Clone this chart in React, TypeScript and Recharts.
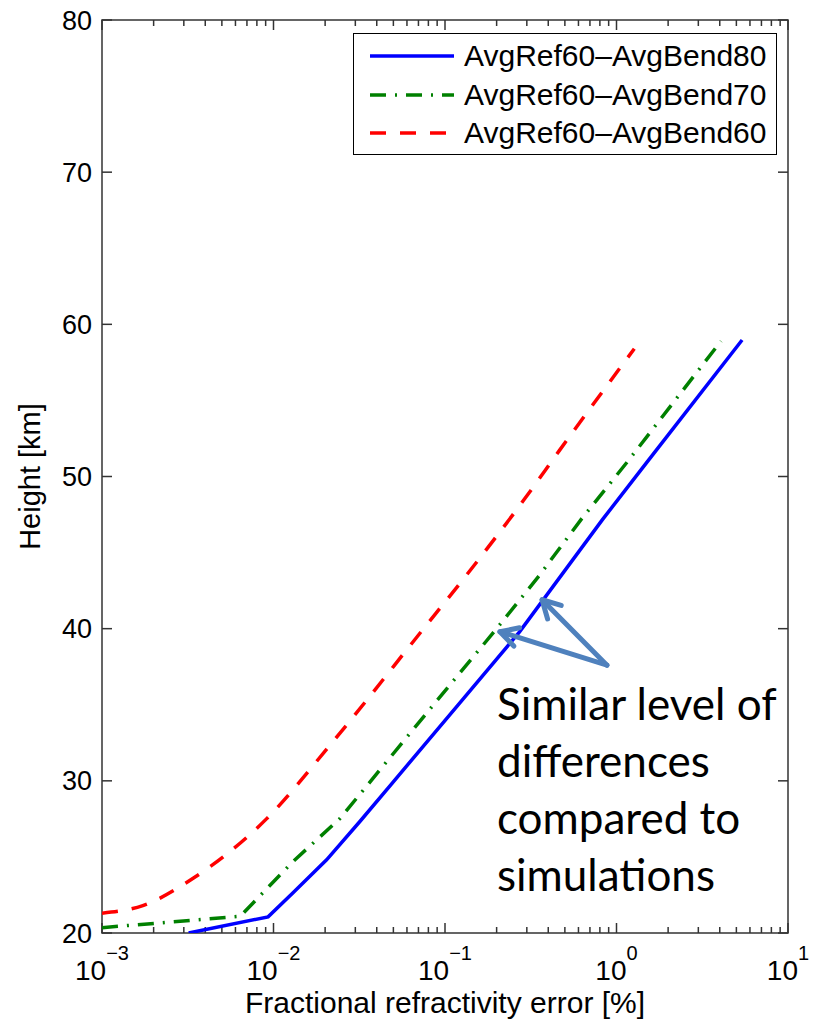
import { LineChart, Line, XAxis, YAxis, ReferenceLine, ReferenceArea, Label } from "recharts";

const FONT = '"Liberation Sans", Arial, Helvetica, sans-serif';
const AXIS = "#333";

// height [km] vs fractional refractivity error [%]
const bend80Height = [20.0, 21.06, 22.64, 24.81, 27.31, 29.87, 34.93, 39.79, 47.15, 50.96, 58.97];
const bend80Error = [0.0032, 0.0093, 0.013, 0.0204, 0.0318, 0.0494, 0.118, 0.272, 0.826, 1.51, 5.4];

const bend70Height = [20.35, 21.1, 22.3, 24.7, 27.5, 35.0, 40.0, 43.5, 47.2, 50.96, 58.9];
const bend70Error = [0.001, 0.0064, 0.0081, 0.013, 0.0243, 0.0857, 0.2, 0.355, 0.624, 1.156, 4.07];

const bend60Height = [21.3, 21.8, 23.6, 27.5, 32.3, 40.0, 43.5, 48.5, 51.7, 58.4];
const bend60Error = [0.001, 0.00173, 0.0034, 0.0091, 0.0212, 0.075, 0.133, 0.29, 0.464, 1.27];

const seriesNames = ["AvgRef60\u2013AvgBend80", "AvgRef60\u2013AvgBend70", "AvgRef60\u2013AvgBend60"];

const xMajorTicks = [0.001, 0.01, 0.1, 1, 10];
const xMinorTicks = [
  0.002, 0.003, 0.004, 0.005, 0.006, 0.007, 0.008, 0.009,
  0.02, 0.03, 0.04, 0.05, 0.06, 0.07, 0.08, 0.09,
  0.2, 0.3, 0.4, 0.5, 0.6, 0.7, 0.8, 0.9,
  2, 3, 4, 5, 6, 7, 8, 9,
];
const yTicks = [20, 30, 40, 50, 60, 70, 80];

const noteLines = ["Similar level of", "differences", "compared to", "simulations"];
const arrowTail = { x: 0.88, y: 37.6 };
const arrowTips = [
  { x: 0.209, y: 39.8 },
  { x: 0.368, y: 41.9 },
];

const toRows = (h: number[], e: number[]) => h.map((v, i) => ({ h: v, e: e[i] }));

const series = [
  { name: seriesNames[0], color: "#0000ff", dash: undefined, curve: "linear", data: toRows(bend80Height, bend80Error) },
  { name: seriesNames[1], color: "#008000", dash: "16 9 2 9", curve: "linear", data: toRows(bend70Height, bend70Error) },
  { name: seriesNames[2], color: "#ff0000", dash: "16 14", curve: "monotone", data: toRows(bend60Height, bend60Error) },
];

function PowerTick({ x, y, payload }: any) {
  const exp = Math.round(Math.log10(payload.value));
  return (
    <text x={x} y={y + 47} textAnchor="middle" fontFamily={FONT} fontSize={28} fill="#000">
      10
      <tspan dy={-20} fontSize={20}>
        {exp < 0 ? `\u2212${-exp}` : `${exp}`}
      </tspan>
    </text>
  );
}

// short inward tick marks at both ends of a full-span reference line
function EndTicks(props: any) {
  const { x1, y1, x2, y2, len } = props;
  const d = Math.hypot(x2 - x1, y2 - y1) || 1;
  const ux = (x2 - x1) / d;
  const uy = (y2 - y1) / d;
  return (
    <g stroke={AXIS} strokeWidth={1.5}>
      <line x1={x1} y1={y1} x2={x1 + ux * len} y2={y1 + uy * len} />
      <line x1={x2} y1={y2} x2={x2 - ux * len} y2={y2 - uy * len} />
    </g>
  );
}

function Arrow(props: any) {
  const { x1, y1, x2, y2 } = props;
  const a = Math.atan2(y2 - y1, x2 - x1);
  const len = 20;
  const spread = 0.5;
  const hx1 = x2 - len * Math.cos(a - spread);
  const hy1 = y2 - len * Math.sin(a - spread);
  const hx2 = x2 - len * Math.cos(a + spread);
  const hy2 = y2 - len * Math.sin(a + spread);
  return (
    <g stroke="#4f81bd" strokeWidth={5} strokeLinecap="round" strokeLinejoin="round" fill="none">
      <line x1={x1} y1={y1} x2={x2} y2={y2} />
      <polyline points={`${hx1},${hy1} ${x2},${y2} ${hx2},${hy2}`} />
    </g>
  );
}

function HeightTitle(props: any) {
  const vb = props.viewBox;
  const cx = vb.x + 30;
  const cy = vb.y + vb.height / 2;
  return (
    <text
      x={cx}
      y={cy}
      transform={`rotate(-90 ${cx} ${cy})`}
      textAnchor="middle"
      dominantBaseline="central"
      fontFamily={FONT}
      fontSize={29}
      fill="#000"
    >
      Height [km]
    </text>
  );
}

function ChartLegend() {
  return (
    <div
      style={{
        position: "absolute",
        left: 353,
        top: 33,
        width: 424,
        height: 122,
        boxSizing: "border-box",
        border: "1.5px solid #000",
        background: "#fff",
        overflow: "hidden",
        fontFamily: FONT,
        fontSize: 30,
        paddingTop: 3,
      }}
    >
      {series.map((s) => (
        <div key={s.name} style={{ display: "flex", alignItems: "center", height: 38.5 }}>
          <svg width={84} height={10} style={{ marginLeft: 16, marginRight: 10 }}>
            <line x1={0} y1={5} x2={84} y2={5} stroke={s.color} strokeWidth={3.5} strokeDasharray={s.dash} />
          </svg>
          <span style={{ whiteSpace: "nowrap", lineHeight: 1 }}>{s.name}</span>
        </div>
      ))}
    </div>
  );
}

export default function App() {
  return (
    <div style={{ position: "absolute", left: 0, top: 0, width: 825, height: 1020, background: "#fff" }}>
      <LineChart width={825} height={1020} margin={{ top: 20, right: 37, bottom: 27, left: 0 }}>
        <XAxis
          xAxisId="x"
          dataKey="e"
          type="number"
          scale="log"
          domain={[0.001, 10]}
          allowDataOverflow
          ticks={xMajorTicks}
          tick={<PowerTick />}
          tickLine={false}
          axisLine={false}
          tickSize={0}
          tickMargin={0}
          height={60}
          interval={0}
        >
          <Label
            value="Fractional refractivity error [%]"
            position="insideBottom"
            offset={-20}
            style={{ fontFamily: FONT, fontSize: 30, fill: "#000" }}
          />
        </XAxis>
        <YAxis
          yAxisId="y"
          type="number"
          domain={[20, 80]}
          allowDataOverflow
          ticks={yTicks}
          tickLine={false}
          axisLine={false}
          tickSize={0}
          tickMargin={10}
          width={102}
          interval={0}
          tick={{ fill: "#000", fontSize: 27, fontFamily: FONT }}
        >
          <Label content={<HeightTitle />} />
        </YAxis>

        {/* box */}
        <ReferenceArea
          xAxisId="x"
          yAxisId="y"
          x1={0.001}
          x2={10}
          y1={20}
          y2={80}
          fill="none"
          fillOpacity={0}
          stroke={AXIS}
          strokeWidth={1.5}
          ifOverflow="visible"
        />
        {/* inward ticks */}
        {xMajorTicks.map((v) => (
          <ReferenceLine key={`M${v}`} xAxisId="x" yAxisId="y" x={v} ifOverflow="visible" shape={<EndTicks len={10} />} />
        ))}
        {xMinorTicks.map((v) => (
          <ReferenceLine key={`m${v}`} xAxisId="x" yAxisId="y" x={v} shape={<EndTicks len={6} />} />
        ))}
        {yTicks.map((v) => (
          <ReferenceLine key={`y${v}`} xAxisId="x" yAxisId="y" y={v} ifOverflow="visible" shape={<EndTicks len={10} />} />
        ))}

        {series.map((s) => (
          <Line
            key={s.name}
            type={s.curve as any}
            xAxisId="x"
            yAxisId="y"
            data={s.data}
            dataKey="h"
            name={s.name}
            stroke={s.color}
            strokeWidth={3.5}
            strokeDasharray={s.dash}
            dot={false}
            activeDot={false}
            isAnimationActive={false}
          />
        ))}

        {arrowTips.map((tip, i) => (
          <ReferenceLine
            key={i}
            xAxisId="x"
            yAxisId="y"
            segment={[arrowTail, tip]}
            shape={<Arrow />}
          />
        ))}
      </LineChart>

      <ChartLegend />

      <div
        style={{
          position: "absolute",
          left: 497,
          top: 675,
          fontFamily: "Lato, 'Open Sans', sans-serif",
          fontSize: 44,
          lineHeight: "57px",
          color: "#000",
        }}
      >
        {noteLines.map((t) => (
          <div key={t} style={{ whiteSpace: "nowrap" }}>{t}</div>
        ))}
      </div>
    </div>
  );
}
